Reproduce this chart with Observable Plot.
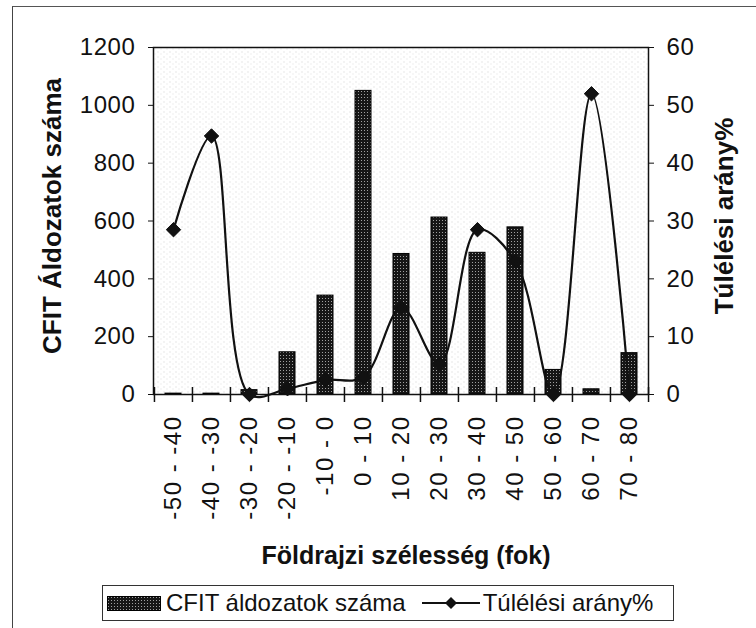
<!DOCTYPE html>
<html>
<head>
<meta charset="utf-8">
<script src="https://cdn.jsdelivr.net/npm/d3@7"></script>
<script src="https://cdn.jsdelivr.net/npm/@observablehq/plot@0.6"></script>
<style>
  body { margin: 0; background: #fff; }
  #wrap { position: relative; width: 756px; height: 628px; overflow: hidden; background: #fff;
          font-family: "Liberation Sans", Arial, sans-serif; color: #111; }
  #border { position: absolute; left: 12px; top: 6px; width: 800px; height: 700px;
            border-left: 1.5px solid #444; border-top: 1.5px solid #555; pointer-events: none; }
  #chart { position: absolute; left: 0; top: 0; width: 756px; }
  #legend { position: absolute; left: 102px; top: 585px; width: 572px; height: 36px;
            border: 1.2px solid #333; box-sizing: border-box; display: flex; align-items: center;
            font-size: 24px; white-space: nowrap; }
  #legend .item { display: flex; align-items: center; }
  #legend svg { display: block; }
  g[aria-label="x-axis tick label"] text { letter-spacing: 1.5px; }
  g[aria-label="y-axis tick label"] text { letter-spacing: 0.6px; }
</style>
</head>
<body>
<div id="wrap">
  <div id="chart"></div>
  <div id="legend"></div>
  <div id="border"></div>
</div>
<script>
// ---- data ----
const categories = ["-50 - -40", "-40 - -30", "-30 - -20", "-20 - -10", "-10 - 0", "0 - 10",
                    "10 - 20", "20 - 30", "30 - 40", "40 - 50", "50 - 60", "60 - 70", "70 - 80"];
const victims  = [3, 3, 15, 146, 342, 1050, 486, 612, 490, 578, 85, 18, 143];
const survival = [28.5, 44.7, 0, 1, 2.5, 3, 15, 5.3, 28.5, 23, 0, 52, 0];
const leftTicks  = [0, 200, 400, 600, 800, 1000, 1200];
const rightTicks = [0, 10, 20, 30, 40, 50, 60];
const yTitle  = "CFIT Áldozatok száma";
const y2Title = "Túlélési arány%";
const xTitle  = "Földrajzi szélesség (fok)";
const legendLabels = ["CFIT áldozatok száma", "Túlélési arány%"];

const ratio = leftTicks[leftTicks.length - 1] / rightTicks[rightTicks.length - 1];
const data = categories.map((c, i) => ({cat: c, count: victims[i], pct: survival[i]}));

const W = 756, H = 580, mL = 153, mR = 108, mT = 47, mB = 186;
const bw = (W - mL - mR) / categories.length;
const FS = 24;

const defs = () => {
  const d = d3.create("svg:defs");
  const p = d.append("pattern").attr("id", "barpat").attr("width", 3).attr("height", 3)
    .attr("patternUnits", "userSpaceOnUse");
  p.append("rect").attr("width", 3).attr("height", 3).attr("fill", "#161616");
  p.append("rect").attr("x", 1).attr("y", 1).attr("width", 1).attr("height", 1).attr("fill", "#a0a0a0");
  const q = d.append("pattern").attr("id", "bgpat").attr("width", 6).attr("height", 5)
    .attr("patternUnits", "userSpaceOnUse");
  q.append("rect").attr("x", 1).attr("y", 1).attr("width", 1).attr("height", 1).attr("fill", "#d0d0d0");
  q.append("rect").attr("x", 4).attr("y", 3).attr("width", 1).attr("height", 1).attr("fill", "#dedede");
  return d.node();
};

const chart = Plot.plot({
  width: W, height: H,
  marginLeft: mL, marginRight: mR, marginTop: mT, marginBottom: mB,
  x: {type: "band", domain: categories, padding: 0},
  y: {domain: [0, 1200]},
  style: {fontFamily: "Liberation Sans, Arial, sans-serif", fontSize: "24px", color: "#111", background: "transparent", overflow: "visible", maxWidth: "none"},
  marks: [
    defs,
    Plot.frame({fill: "url(#bgpat)", stroke: null}),
    Plot.barY(data, {x: "cat", y: "count", fill: "url(#barpat)", stroke: "#000", strokeWidth: 1,
                     insetLeft: 11, insetRight: 11}),
    Plot.frame({stroke: "#111", strokeWidth: 1.5}),
    Plot.axisY(leftTicks, {anchor: "left", tickSize: 5, tickPadding: 13, label: null,
               tickFormat: d => String(d), fontSize: FS}),
    Plot.axisY(rightTicks.map(v => v * ratio), {anchor: "right", tickSize: 5, tickPadding: 13,
               tickFormat: d => String(d / ratio), label: null, fontSize: FS}),
    Plot.axisX(categories, {anchor: "bottom", tickSize: 0, tickPadding: 21, tickRotate: -90, label: null, fontSize: FS}),
    Plot.axisX(categories, {anchor: "bottom", tickSize: 15, dy: -7, dx: -bw / 2, tickFormat: () => "", label: null, strokeWidth: 1.5}),
    Plot.axisX(categories.slice(-1), {anchor: "bottom", tickSize: 15, dy: -7, dx: bw / 2, tickFormat: () => "", label: null, strokeWidth: 1.5}),
    Plot.line(data, {x: "cat", y: d => d.pct * ratio, curve: "catmull-rom", stroke: "#111", strokeWidth: 2.2}),
    Plot.dot(data, {x: "cat", y: d => d.pct * ratio, symbol: "diamond2", r: 6.5, fill: "#111", stroke: "#111", strokeWidth: 1}),
    Plot.text([yTitle], {text: d => d, frameAnchor: "left", textAnchor: "middle", lineAnchor: "middle",
               dx: -101, dy: -5, rotate: -90, fontWeight: "bold", fontSize: 26}),
    Plot.text([y2Title], {text: d => d, frameAnchor: "right", textAnchor: "middle", lineAnchor: "middle",
               dx: 76, dy: -5, rotate: -90, fontWeight: "bold", fontSize: 26}),
    Plot.text([xTitle], {text: d => d, frameAnchor: "bottom", textAnchor: "middle", lineAnchor: "middle",
               dx: 5, dy: 161, fontWeight: "bold", fontSize: 25})
  ]
});
document.getElementById("chart").appendChild(chart);

// ---- legend ----
const legend = document.getElementById("legend");
legend.innerHTML = `
  <div class="item" style="margin-left:4px">
    <svg width="54" height="15"><rect x="0.5" y="0.5" width="53" height="14" fill="url(#barpat)" stroke="#000"/></svg>
    <span style="margin-left:5px">${legendLabels[0]}</span>
  </div>
  <div class="item" style="margin-left:16px">
    <svg width="58" height="16"><line x1="0" y1="8" x2="58" y2="8" stroke="#111" stroke-width="2"/>
      <path d="M29,2 L35,8 L29,14 L23,8 Z" fill="#111"/></svg>
    <span style="margin-left:3px">${legendLabels[1]}</span>
  </div>`;
</script>
</body>
</html>
